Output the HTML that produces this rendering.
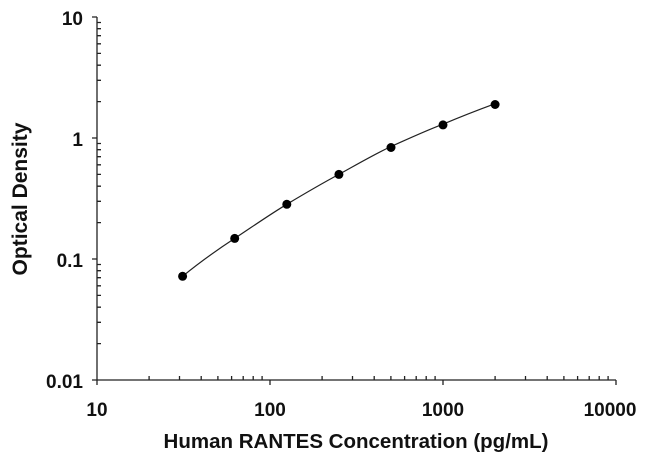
<!DOCTYPE html><html><head><style>body{margin:0;background:#fff}svg{display:block}text{font-family:"Liberation Sans",sans-serif;font-weight:bold;fill:#111}</style></head><body>
<svg width="650" height="470" viewBox="0 0 650 470">
<g stroke="#222" stroke-width="1.3" fill="none">
<path d="M97 17V380H616"/>
<path d="M92 17H97M92 138H97M92 259H97M92 380H97"/>
<path d="M97 343.6h4M97 322.3h4M97 307.2h4M97 295.4h4M97 285.8h4M97 277.7h4M97 270.7h4M97 264.5h4M97 222.6h4M97 201.3h4M97 186.2h4M97 174.4h4M97 164.8h4M97 156.7h4M97 149.7h4M97 143.5h4M97 101.6h4M97 80.3h4M97 65.2h4M97 53.4h4M97 43.8h4M97 35.7h4M97 28.7h4M97 22.5h4"/>
<path d="M97 380v5M270 380v5M443 380v5M616 380v5"/>
<path d="M149.1 380v-4M179.5 380v-4M201.2 380v-4M217.9 380v-4M231.6 380v-4M243.2 380v-4M253.2 380v-4M262.1 380v-4M322.1 380v-4M352.5 380v-4M374.2 380v-4M390.9 380v-4M404.6 380v-4M416.2 380v-4M426.2 380v-4M435.1 380v-4M495.1 380v-4M525.5 380v-4M547.2 380v-4M563.9 380v-4M577.6 380v-4M589.2 380v-4M599.2 380v-4M608.1 380v-4"/>
<path stroke-width="1.2" d="M182.6 276.3C200 262 217 250 234.7 238.4C252 227 269 215 286.8 204.3C304 194 321 184 338.9 174.4C356 165 373 155 391 146.5C408 139 425 131 443 124.2C460 117 478 110 495.1 103.7"/>
</g>
<g fill="#000">
<circle cx="182.6" cy="276.3" r="4.5"/><circle cx="234.7" cy="238.4" r="4.5"/><circle cx="286.8" cy="204.3" r="4.5"/><circle cx="338.9" cy="174.4" r="4.5"/><circle cx="391" cy="147.5" r="4.5"/><circle cx="443" cy="124.9" r="4.5"/><circle cx="495.1" cy="104.5" r="4.5"/>
</g>
<g font-size="19" text-anchor="end">
<text x="83" y="25">10</text><text x="83" y="146">1</text><text x="83" y="267">0.1</text><text x="83" y="388">0.01</text>
</g>
<g font-size="19" text-anchor="middle">
<text x="97" y="416">10</text><text x="270" y="416">100</text><text x="443" y="416">1000</text><text x="610" y="416">10000</text>
</g>
<text x="356" y="448" font-size="20.5" text-anchor="middle">Human RANTES Concentration (pg/mL)</text>
<text transform="translate(27,199) rotate(-90)" font-size="21" text-anchor="middle">Optical Density</text>
</svg></body></html>
